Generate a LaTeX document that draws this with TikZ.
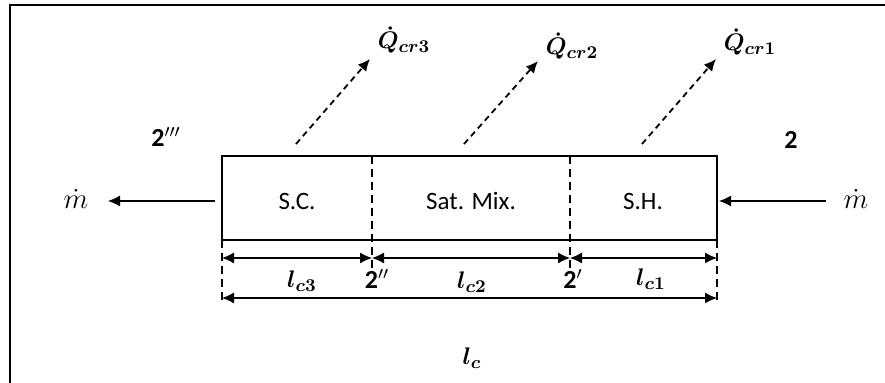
\documentclass[tikz,border=0pt]{standalone}
\usepackage{fontspec}
\setsansfont{Carlito}
\usetikzlibrary{arrows.meta}

\begin{document}
\begin{tikzpicture}[x=0.5pt, y=-0.5pt,
    wall/.style={line width=1.1pt, line join=miter},
    divider/.style={line width=0.8pt, dash pattern=on 4pt off 2.5pt},
    flow/.style={line width=0.6pt, -{Latex[length=6pt, width=5.5pt]}},
    heat/.style={line width=0.9pt, dash pattern=on 3pt off 2.2pt, -{Latex[length=6pt, width=5.5pt]}},
    dim/.style={line width=0.6pt, {Latex[length=6pt, width=5.5pt]}-{Latex[length=6pt, width=5.5pt]}},
    zone/.style={font=\sffamily\fontsize{12.5}{14}\selectfont},
    state/.style={font=\sffamily\bfseries\fontsize{13}{15}\selectfont},
    quantity/.style={font=\boldmath\fontsize{12.5}{14}\selectfont, inner sep=1pt},
    massflow/.style={font=\fontsize{14}{16}\selectfont, inner sep=1pt}]
  \useasboundingbox (0,0) rectangle (885,383);
  % cropped frame of the original figure
  \draw[line width=1.2pt] (10,383) -- (10,5) -- (885,5);

  % the condenser: outlet at the left, inlet at the right
  \coordinate (outN) at (222,156);
  \coordinate (inS) at (717,240);
  \coordinate (cutA) at (372,156);
  \coordinate (cutB) at (570,156);
  \draw[wall] (outN) rectangle (inS);
  \draw[divider] (cutA) -- (372,268);
  \draw[divider] (cutB) -- (570,268);
  \draw[divider] (222,240) -- (222,302);
  \draw[divider] (717,240) -- (717,302);

  \node[zone] (sc) at (297,201) {S.C.};
  \node[zone] (mix) at (471,201) {Sat. Mix.};
  \node[zone] (sh) at (643,201) {S.H.};

  % mass flow through the condenser
  \node[massflow] (mout) at (76,199) {$\dot{m}$};
  \node[massflow] (min) at (856,199) {$\dot{m}$};
  \coordinate (outW) at (215,201);
  \coordinate (inE) at (826,201);
  \draw[flow] (outW) -- (108,201);
  \draw[flow] (inE) -- (719,201);

  \node[state] (exit) at (166,137) {2$'''$};
  \node[state] (entry) at (791,140) {2};

  % heat rejected by each zone
  \node[quantity] (q3) at (404,40) {$\dot{Q}_{cr3}$};
  \node[quantity] (q2) at (572,46) {$\dot{Q}_{cr2}$};
  \node[quantity] (q1) at (750,42) {$\dot{Q}_{cr1}$};
  \coordinate (h3) at (296,144);
  \coordinate (h2) at (464,144);
  \coordinate (h1) at (642,144);
  \draw[heat] (h3) -- (370,59);
  \draw[heat] (h2) -- (538,61);
  \draw[heat] (h1) -- (716,59);

  % lengths of the three zones
  \coordinate (a0) at (222,258);
  \coordinate (a1) at (372,258);
  \coordinate (a2) at (570,258);
  \coordinate (a3) at (717,258);
  \draw[dim] (a0) -- (a1);
  \draw[dim] (a1) -- (a2);
  \draw[dim] (a2) -- (a3);
  \coordinate (b0) at (222,298);
  \coordinate (b1) at (717,298);
  \draw[dim] (b0) -- (b1);

  \node[quantity] (lc3) at (302,281) {$l_{c3}$};
  \node[state] (satB) at (377,279) {2$''$};
  \node[quantity] (lc2) at (472,282) {$l_{c2}$};
  \node[state] (satA) at (573,279) {2$'$};
  \node[quantity] (lc1) at (651,279) {$l_{c1}$};
  \node[quantity] (lc) at (472,358) {$l_{c}$};
\end{tikzpicture}
\end{document}
